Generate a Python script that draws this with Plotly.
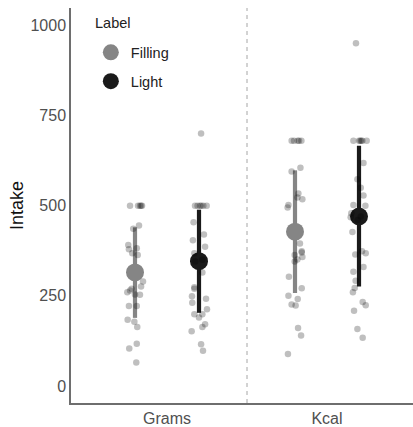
import plotly.graph_objects as go

categories = ["Grams", "Kcal"]
groups = ["Filling", "Light"]

# summary (mean with interval) per group, per category
filling_mean = [315, 428]
filling_low = [189, 258]
filling_high = [440, 598]
light_mean = [346, 470]
light_low = [203, 276]
light_high = [489, 666]

# individual observations and their horizontal jitter (category units)
grams_filling = [500, 500, 500, 500, 500, 436, 445, 391, 379, 382, 368, 363, 290, 276, 260,
                 265, 270, 253, 254, 222, 222, 184, 178, 164, 104, 117, 65]
grams_filling_jit = [-0.031, 0.019, 0.031, 0.044, 0.038, -0.011, 0.025, -0.042, -0.038, 0.011,
                     -0.017, 0.017, 0.05, 0.038, -0.048, -0.031, -0.021, 0.031, 0.0, -0.038,
                     0.011, -0.046, -0.004, 0.014, -0.036, 0.011, 0.008]
grams_light = [700, 500, 500, 500, 500, 500, 500, 454, 420, 404, 386, 368, 315, 274, 270, 249,
               242, 231, 213, 199, 199, 190, 164, 171, 152, 116, 98, 345, 350]
grams_light_jit = [0.013, -0.025, -0.009, 0.006, 0.014, 0.027, 0.048, -0.034, 0.031, -0.038,
                   0.038, -0.029, 0.021, -0.029, -0.029, -0.044, 0.044, -0.042, 0.05, -0.029,
                   0.021, 0.0, 0.021, 0.038, -0.046, 0.013, 0.025, -0.023, 0.021]
kcal_filling = [680, 680, 680, 680, 680, 595, 605, 534, 523, 518, 502, 495, 395, 374, 370, 358,
                363, 345, 351, 303, 271, 250, 241, 226, 223, 161, 140, 89]
kcal_filling_jit = [-0.021, -0.006, 0.017, 0.025, 0.04, -0.021, 0.034, 0.021, 0.015, 0.046,
                    -0.041, -0.046, 0.031, 0.042, 0.042, 0.046, -0.002, -0.002, 0.015, -0.038,
                    0.042, -0.041, 0.017, -0.021, 0.004, 0.019, 0.038, -0.044]
kcal_light = [950, 680, 680, 680, 680, 680, 680, 618, 573, 550, 528, 502, 500, 479, 468, 427,
              374, 368, 365, 330, 317, 292, 272, 260, 233, 224, 209, 158, 134, 460, 470]
kcal_light_jit = [-0.019, -0.035, 0.0, 0.008, 0.014, 0.021, 0.048, 0.028, -0.01, 0.011, 0.028,
                  -0.035, 0.04, -0.048, -0.052, -0.041, 0.019, 0.042, -0.023, 0.028, -0.035,
                  -0.021, -0.027, -0.038, 0.023, 0.042, -0.031, -0.01, 0.023, -0.008, 0.011]

y_ticks = [0, 250, 500, 750, 1000]
legend_title = "Label"

DODGE = 0.2
group_offset = {"Filling": -DODGE, "Light": DODGE}
group_color = {"Filling": "#858585", "Light": "#1a1a1a"}
cat_pos = {c: i for i, c in enumerate(categories)}

fig = go.Figure()

summary = {
    "Filling": (filling_mean, filling_low, filling_high),
    "Light": (light_mean, light_low, light_high),
}
for g in groups:
    m, lo, hi = summary[g]
    xs = [cat_pos[c] + group_offset[g] for c in categories]
    fig.add_trace(go.Scatter(
        x=xs, y=m, mode="markers", name=g, legendgroup=g,
        marker=dict(size=18, color=group_color[g]),
        error_y=dict(type="data", symmetric=False,
                     array=[h - v for h, v in zip(hi, m)],
                     arrayminus=[v - l for v, l in zip(m, lo)],
                     color=group_color[g], thickness=4.2, width=0),
        cliponaxis=False,
    ))

obs = [
    ("Grams", "Filling", grams_filling, grams_filling_jit),
    ("Grams", "Light", grams_light, grams_light_jit),
    ("Kcal", "Filling", kcal_filling, kcal_filling_jit),
    ("Kcal", "Light", kcal_light, kcal_light_jit),
]
for c, g, vals, jit in obs:
    base = cat_pos[c] + group_offset[g]
    fig.add_trace(go.Scatter(
        x=[base + j for j in jit], y=vals, mode="markers", showlegend=False,
        marker=dict(size=6.5, color="rgba(0,0,0,0.25)", line=dict(width=0)),
        hoverinfo="y",
    ))

fig.add_shape(type="line", xref="x", yref="paper", x0=0.5, x1=0.5, y0=0, y1=1,
              line=dict(color="#a6a6a6", width=1, dash="4px,4px"), layer="below")

fig.add_annotation(text=legend_title, xref="paper", yref="paper", x=0.064, y=0.9625,
                   xanchor="left", yanchor="middle", showarrow=False,
                   font=dict(size=14.5, color="#222222"))

fig.update_layout(
    width=413, height=427,
    margin=dict(l=71, r=0, t=8, b=19),
    paper_bgcolor="white", plot_bgcolor="white",
    font=dict(family="Liberation Sans, Arial, sans-serif", size=14, color="#222222"),
    showlegend=True,
    legend=dict(
        x=0.058, y=0.928, xanchor="left", yanchor="top",
        font=dict(size=14.5, color="#222222"),
        tracegroupgap=7, bgcolor="rgba(0,0,0,0)",
    ),
    xaxis=dict(
        range=[-0.6, 1.5375], tickmode="array",
        tickvals=[cat_pos[c] for c in categories], ticktext=categories,
        showgrid=False, zeroline=False, showline=True, linecolor="#6e6e6e", linewidth=1.5,
        ticks="", tickfont=dict(size=16, color="#505050"),
    ),
    yaxis=dict(
        range=[-47, 1048], tickmode="array", tickvals=y_ticks,
        ticktext=[str(v) for v in y_ticks],
        showgrid=False, zeroline=False, showline=True, linecolor="#6e6e6e", linewidth=1.5,
        ticks="", tickfont=dict(size=16, color="#505050"),
        title=dict(text="Intake", font=dict(size=18, color="#111111"), standoff=2),
    ),
)

fig.write_html("out.html")
